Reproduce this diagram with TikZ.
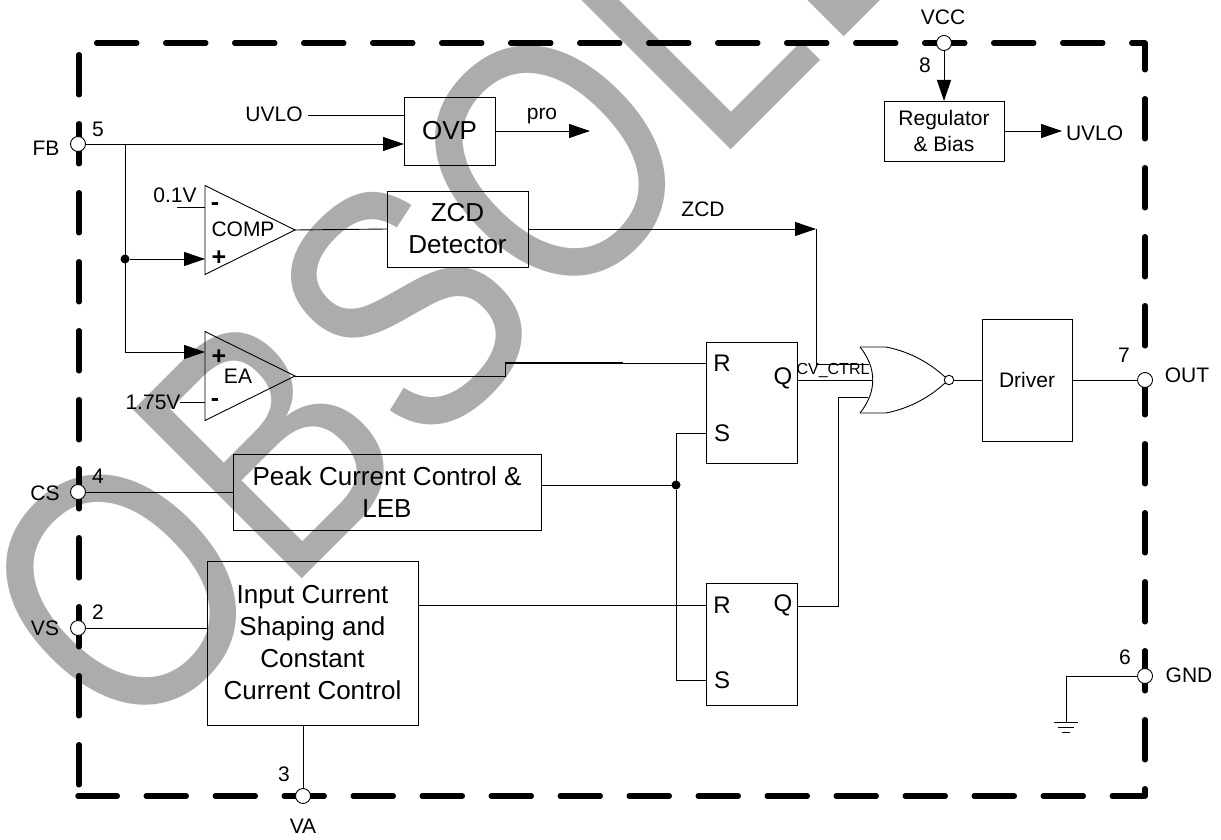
\documentclass[tikz,border=0pt]{standalone}
\usepackage{fontspec}
\setmainfont{Liberation Sans}
\usetikzlibrary{arrows.meta,shapes.geometric}
\definecolor{stampgray}{RGB}{172,172,172}
\tikzset{
	wire/.style={line width=0.9pt},
	tip/.style={-{Triangle[length=21pt,width=14pt]}},
	border/.style={line width=5.5pt, line cap=round, line join=round, dash pattern=on 40pt off 29pt},
	box/.style={draw, line width=0.9pt, inner sep=0pt, outer sep=0pt, align=center},
	big/.style={font=\fontsize{26}{32}\selectfont},
	small/.style={font=\fontsize{21}{26}\selectfont},
	lbl/.style={small, inner sep=0pt, outer sep=0pt},
	sign/.style={lbl, font=\fontsize{25}{25}\selectfont\bfseries},
	ffport/.style={lbl, font=\fontsize{24}{24}\selectfont},
	pin/.style={circle, draw, fill=white, line width=0.9pt, minimum size=15pt, inner sep=0pt, outer sep=0pt},
	junction/.style={circle, fill=black, minimum size=9pt, inner sep=0pt, outer sep=0pt},
	opamp/.style={isosceles triangle, isosceles triangle apex angle=53, isosceles triangle stretches, draw, line width=0.9pt, minimum width=89pt, minimum height=90pt, inner sep=0pt, outer sep=0pt, anchor=apex},
	stamp/.style={text=stampgray, inner sep=0pt, outer sep=0pt, anchor=base west, transform shape, font=\fontsize{100}{100}\selectfont}
}
\begin{document}
\begin{tikzpicture}[x=1pt, y=-1pt]
	\useasboundingbox (0,0) rectangle (1221,840);

	% Draw the stamp across the sheet
	\begin{scope}
		\clip (0,0) rectangle (1221,840);
		\node[stamp, cm={2.03,2.03,-2.45,2.45,(127.8,753.5)}] (obsolete) at (0,0) {OBSOLETE};
	\end{scope}

	% Draw the chip outline
	\draw[border, dash phase=50.25pt] (78,43) -- (1145,43) -- (1145,796) -- (78,796);
	\draw[border, dash phase=57.25pt] (79,43) -- (79,796);

	% Draw the pins
	\node[pin] (fb) at (78,144) {};
	\node[pin] (cs) at (78,492) {};
	\node[pin] (vs) at (78,628) {};
	\node[pin] (va) at (303,796) {};
	\node[pin] (vcc) at (944,43) {};
	\node[pin] (out) at (1145,380) {};
	\node[pin] (gnd) at (1145,676) {};

	\node[lbl] (fblabel) at (46,148) {FB};
	\node[lbl] (cslabel) at (45,493) {CS};
	\node[lbl] (vslabel) at (45,628) {VS};
	\node[lbl] (valabel) at (303,826) {VA};
	\node[lbl] (vcclabel) at (943,17) {VCC};
	\node[lbl] (outlabel) at (1187,375) {OUT};
	\node[lbl] (gndlabel) at (1189,675) {GND};
	\node[lbl] (fbnum) at (98,129) {5};
	\node[lbl] (csnum) at (98,476) {4};
	\node[lbl] (vsnum) at (98,612) {2};
	\node[lbl] (vanum) at (284,774) {3};
	\node[lbl] (vccnum) at (925,65) {8};
	\node[lbl] (outnum) at (1124,355) {7};
	\node[lbl] (gndnum) at (1125,657) {6};

	% Draw the blocks
	\node[box, big, minimum width=91pt, minimum height=68pt] (ovp) at (449.5,131) {OVP};
	\node[box, big, minimum width=141pt, minimum height=76pt] (zcd) at (457.5,229) {ZCD\\Detector};
	\node[box, big, minimum width=308pt, minimum height=76pt] (peak) at (387,492) {Peak Current Control \&\\LEB};
	\node[box, big, minimum width=211pt, minimum height=164pt] (shaping) at (312.5,643) {Input Current\\Shaping and\\Constant\\Current Control};
	\node[box, small, minimum width=120pt, minimum height=60pt] (reg) at (944,131) {Regulator\\\& Bias};
	\node[box, small, minimum width=90pt, minimum height=122pt] (driver) at (1027,380) {Driver};
	\node[box, minimum width=91pt, minimum height=121pt] (ffa) at (751.5,402.5) {};
	\node[box, minimum width=91pt, minimum height=122pt] (ffb) at (751.5,644) {};

	\node[ffport] (ffar) at (722,363) {R};
	\node[ffport] (ffaq) at (783,378) {Q};
	\node[ffport] (ffas) at (722,433) {S};
	\node[ffport] (ffbr) at (722,605) {R};
	\node[ffport] (ffbq) at (783,605) {Q};
	\node[ffport] (ffbs) at (722,680) {S};

	% Draw the amplifiers
	\node[opamp] (comp) at (295,230) {};
	\node[opamp] (ea) at (295,376) {};
	\node[lbl] (complabel) at (243,229) {COMP};
	\node[lbl] (ealabel) at (238,376) {EA};
	\node[sign] (compminus) at (215,207) {-};
	\node[sign] (compplus) at (219,258) {+};
	\node[sign] (eaplus) at (219,357) {+};
	\node[sign] (eaminus) at (215,403) {-};

	% Draw the wires around the FB pin
	\node[junction] (jfb) at (125,259) {};
	\coordinate (eain) at (125,352);
	\draw[wire, tip] (fb) -- (fb -| ovp.west);
	\draw[wire] (fb -| jfb) -- (eain);
	\draw[wire, tip] (jfb) -- (jfb -| comp.left corner);
	\draw[wire, tip] (eain) -- (eain -| ea.left corner);

	\node[lbl] (uvloin) at (274,114) {UVLO};
	\coordinate (uvlostart) at (308,115);
	\draw[wire] (uvlostart) -- (uvlostart -| ovp.west);
	\coordinate (proend) at (590,131);
	\draw[wire, tip] (ovp.east) -- (proend);
	\node[lbl] (prolabel) at (542,116) {pro};

	\node[lbl] (tenth) at (175,195) {0.1V};
	\coordinate (tenthwire) at (177,207);
	\draw[wire] (tenthwire) -- (tenthwire -| comp.left corner);
	\node[lbl] (refea) at (153,402) {1.75V};
	\draw[wire] (refea.east) -- (refea.east -| ea.left corner);

	% Draw the ZCD path
	\coordinate (ctrl) at (816,229);
	\draw[wire] (comp.apex) -- (zcd.west);
	\draw[wire, tip] (zcd.east) -- (ctrl);
	\node[lbl] (zcdlabel) at (703,209) {ZCD};

	% Draw the EA path with its heavy stretch
	\coordinate (eastep) at (505,363);
	\coordinate (eaheavy) at (623,363);
	\draw[wire] (ea.apex) -| (eastep);
	\draw[line width=2pt] (eastep) -- (eaheavy);
	\draw[wire] (eaheavy) -- (eaheavy -| ffa.west);

	% Draw the peak current and shaping wires
	\node[junction] (jpeak) at (676,485) {};
	\coordinate (ffasin) at (706,433);
	\coordinate (ffbsin) at (706,680);
	\coordinate (ffbrin) at (706,605);
	\draw[wire] (cs) -- (cs -| peak.west);
	\draw[wire] (vs) -- (vs -| shaping.west);
	\draw[wire] (va) -- (va |- shaping.south);
	\draw[wire] (jpeak -| peak.east) -- (jpeak);
	\draw[wire] (ffasin) -| (jpeak) |- (ffbsin);
	\draw[wire] (ffbrin -| shaping.east) -- (ffbrin);

	% Draw the NOR gate
	\coordinate (nora) at (869,364);
	\coordinate (norb) at (873,380);
	\coordinate (norc) at (868,397);
	\coordinate (norbend) at (838,397);
	\coordinate (ffbout) at (797,606);
	\draw[line width=0.9pt] (860,347) -- (886,347) .. controls (912,352) and (932,365) .. (945,377);
	\draw[line width=0.9pt] (860,413) -- (886,413) .. controls (912,408) and (932,395) .. (945,383);
	\draw[line width=0.9pt] (860,347) .. controls (877,368) and (877,392) .. (860,413);
	\node[circle, draw, fill=white, line width=0.9pt, minimum size=9.5pt, inner sep=0pt, outer sep=0pt] (norout) at (949,380) {};
	\draw[wire] (ctrl) |- (nora);
	\draw[wire] (norb -| ffa.east) -- (norb);
	\draw[wire] (ffbout) -| (norbend) -- (norc);
	\draw[wire] (norout) -- (driver.west);
	\draw[wire] (driver.east) -- (out);
	\node[lbl, font=\fontsize{16}{16}\selectfont] (cvlabel) at (833,371) {CV\_CTRL};

	% Draw the regulator wires
	\node[lbl, anchor=west, outer xsep=4pt] (uvloout) at (1062,133) {UVLO};
	\draw[wire, tip] (vcc) -- (reg.north);
	\draw[wire, tip] (reg.east) -- (reg.east -| uvloout.west);

	% Draw the ground
	\coordinate (gndtop) at (1066,722);
	\draw[wire] (gnd) -| (gndtop);
	\draw[line width=0.9pt] (gndtop) ++(-12,0) -- ++(24,0);
	\draw[line width=0.9pt] (gndtop) ++(-8,5) -- ++(16,0);
	\draw[line width=0.9pt] (gndtop) ++(-4,10) -- ++(8,0);
\end{tikzpicture}
\end{document}
